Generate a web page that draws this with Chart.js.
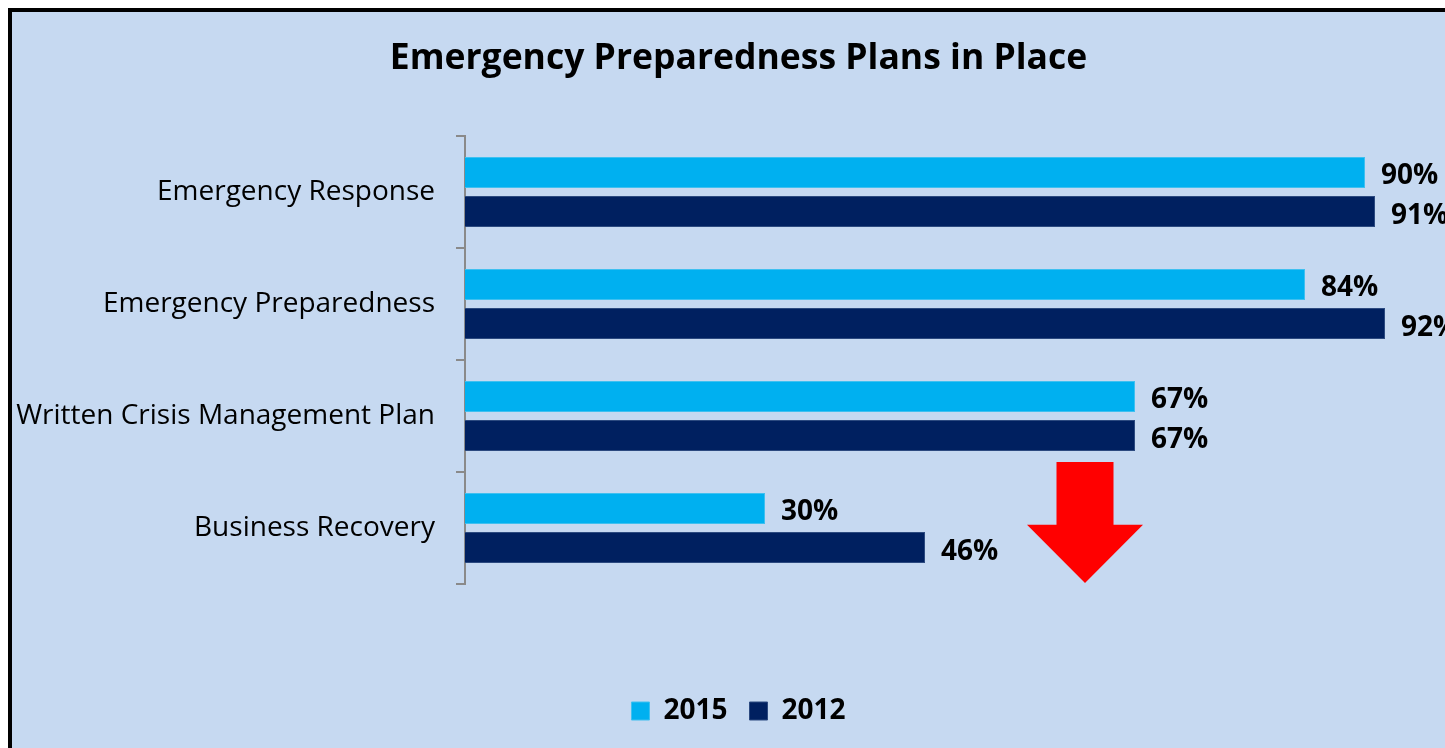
<!DOCTYPE html>
<html>
<head>
<meta charset="utf-8">
<script src="https://cdn.jsdelivr.net/npm/chart.js@4/dist/chart.umd.min.js"></script>
<style>
  html, body { margin: 0; padding: 0; overflow: hidden; background: #ffffff; width: 1445px; height: 748px; }
  #frame { position: absolute; left: 8px; top: 8px; width: 1500px; height: 800px;
           border-left: 4px solid #000; border-top: 4px solid #000; background: #c6d9f1; }
  #c { position: absolute; left: 0; top: 0; }
</style>
</head>
<body>
<div id="frame"></div>
<canvas id="c" width="1478" height="748"></canvas>
<script>
const categories = ['Emergency Response', 'Emergency Preparedness', 'Written Crisis Management Plan', 'Business Recovery'];
const seriesNames = ['2015', '2012'];
const values2015 = [90, 84, 67, 30];
const values2012 = [91, 92, 67, 46];

const FONT = "'Open Sans', 'DejaVu Sans', sans-serif";

const dataLabels = {
  id: 'dataLabels',
  afterDatasetsDraw(chart) {
    const ctx = chart.ctx;
    ctx.save();
    ctx.font = 'bold 28px ' + FONT;
    ctx.fillStyle = '#000';
    ctx.textAlign = 'left';
    ctx.textBaseline = 'middle';
    chart.data.datasets.forEach((ds, di) => {
      chart.getDatasetMeta(di).data.forEach((bar, i) => {
        ctx.fillText(ds.data[i] + '%', bar.x + 16, bar.y + 4);
      });
    });
    ctx.restore();
  }
};

const downArrow = {
  id: 'downArrow',
  afterDraw(chart, args, opts) {
    const x = chart.scales.x, y = chart.scales.y, ctx = chart.ctx;
    const cx = x.getPixelForValue(opts.center);
    const sw = x.getPixelForValue(opts.center + opts.shaftHalf) - cx;
    const hw = x.getPixelForValue(opts.center + opts.headHalf) - cx;
    const top = y.getPixelForValue(opts.top);
    const neck = y.getPixelForValue(opts.neck);
    const tip = y.getPixelForValue(opts.tip);
    ctx.save();
    ctx.fillStyle = opts.color;
    ctx.beginPath();
    ctx.moveTo(cx - sw, top);
    ctx.lineTo(cx + sw, top);
    ctx.lineTo(cx + sw, neck);
    ctx.lineTo(cx + hw, neck);
    ctx.lineTo(cx, tip);
    ctx.lineTo(cx - hw, neck);
    ctx.lineTo(cx - sw, neck);
    ctx.closePath();
    ctx.fill();
    ctx.restore();
  }
};

new Chart(document.getElementById('c'), {
  type: 'bar',
  data: {
    labels: categories,
    datasets: [
      { label: seriesNames[0], data: values2015, backgroundColor: '#00b0f0', borderColor: '#3fc0f0', borderWidth: 1 },
      { label: seriesNames[1], data: values2012, backgroundColor: '#002060', borderColor: '#2c4a80', borderWidth: 1 }
    ]
  },
  options: {
    indexAxis: 'y',
    responsive: false,
    animation: false,
    devicePixelRatio: 1,
    categoryPercentage: 0.7,
    barPercentage: 0.79,
    layout: { padding: { left: 12, right: 13, top: 0, bottom: 13 } },
    scales: {
      x: {
        min: 0, max: 100,
        display: true,
        grid: { display: false },
        border: { display: false },
        ticks: { display: false },
        afterFit(s) { s.height = 91; }
      },
      y: {
        grid: { display: true, drawOnChartArea: false, drawTicks: true, tickLength: 9, color: '#8a8a8a', lineWidth: 2 },
        border: { display: true, color: '#8a8a8a', width: 2 },
        ticks: { color: '#000', font: { family: FONT, size: 28 }, padding: 21 },
        afterFit(s) { s.width = 453; }
      }
    },
    plugins: {
      title: {
        display: true,
        text: 'Emergency Preparedness Plans in Place',
        color: '#000',
        font: { family: FONT, size: 35.5, weight: 'bold' },
        padding: { top: 38, bottom: 55.4 }
      },
      legend: {
        display: true,
        position: 'bottom',
        labels: {
          color: '#000',
          font: { family: FONT, size: 28, weight: 'bold' },
          boxWidth: 18, boxHeight: 18, padding: 22
        }
      },
      tooltip: { enabled: false },
      downArrow: { center: 62, shaftHalf: 2.85, headHalf: 5.8, top: 2.41, neck: 2.97, tip: 3.49, color: '#ff0000' }
    }
  },
  plugins: [dataLabels, downArrow]
});
</script>
</body>
</html>
